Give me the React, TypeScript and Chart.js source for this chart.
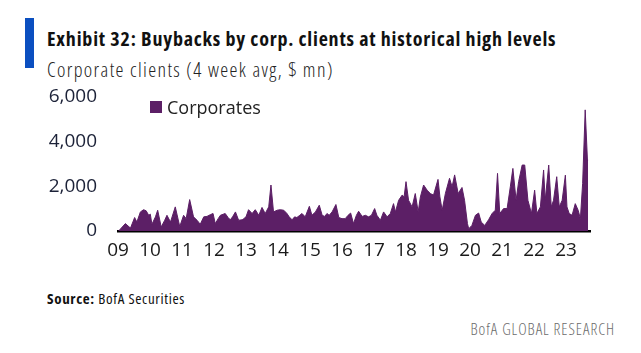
import React, { useEffect, useRef } from "react";
import { Chart, registerables } from "chart.js";

Chart.register(...registerables);

// decimal-year positions of the weekly-average readings
const dates: number[] = [
  2009.02, 2009.23, 2009.39, 2009.52, 2009.59, 2009.70, 2009.80, 2009.88, 2009.96,
  2010.01, 2010.06, 2010.17, 2010.24, 2010.35, 2010.46, 2010.53, 2010.64, 2010.79, 2010.93,
  2011.05, 2011.13, 2011.24, 2011.36, 2011.47, 2011.57, 2011.68, 2011.78, 2011.89, 2011.97,
  2012.04, 2012.13, 2012.20, 2012.35, 2012.44, 2012.51, 2012.58, 2012.67, 2012.77, 2012.88, 2012.93,
  2013.00, 2013.08, 2013.19, 2013.29, 2013.40, 2013.50, 2013.60, 2013.71, 2013.78, 2013.86, 2013.97,
  2014.07, 2014.18, 2014.28, 2014.35, 2014.44, 2014.52, 2014.59, 2014.68, 2014.75, 2014.85, 2014.98,
  2015.06, 2015.17, 2015.29, 2015.38, 2015.46, 2015.53, 2015.60, 2015.69, 2015.81, 2015.90,
  2016.00, 2016.10, 2016.19, 2016.27, 2016.36, 2016.45, 2016.52, 2016.63, 2016.73, 2016.83, 2016.92,
  2017.02, 2017.09, 2017.20, 2017.30, 2017.41, 2017.51, 2017.61, 2017.67, 2017.77, 2017.88, 2017.94,
  2018.00, 2018.08, 2018.19, 2018.29, 2018.38, 2018.45, 2018.55, 2018.66, 2018.76, 2018.86,
  2019.00, 2019.06, 2019.13, 2019.23, 2019.36, 2019.44, 2019.52, 2019.63, 2019.75, 2019.83, 2019.92, 2019.96,
  2020.06, 2020.17, 2020.27, 2020.35, 2020.46, 2020.58, 2020.69, 2020.79, 2020.86, 2020.93,
  2021.05, 2021.16, 2021.26, 2021.34, 2021.44, 2021.52, 2021.63, 2021.71, 2021.81, 2021.92,
  2022.02, 2022.09, 2022.20, 2022.30, 2022.35, 2022.46, 2022.54, 2022.61, 2022.71, 2022.79, 2022.88, 2022.98,
  2023.03, 2023.10, 2023.19, 2023.29, 2023.38, 2023.45, 2023.52, 2023.60, 2023.67, 2023.69,
];

// Corporates, 4 week avg, $ mn
const corporates: number[] = [
  0, 330, 130, 600, 400, 850, 950, 900, 700,
  750, 300, 630, 925, 180, 480, 700, 400, 1075, 200,
  700, 550, 1400, 630, 480, 300, 630, 650, 730, 780,
  330, 550, 700, 780, 600, 500, 630, 850, 480, 500, 550,
  630, 950, 780, 950, 700, 1050, 780, 1075, 2050, 850, 925,
  950, 925, 780, 630, 500, 630, 600, 700, 780, 630, 1100,
  700, 850, 1150, 700, 650, 780, 700, 850, 1180, 600,
  550, 550, 700, 800, 330, 700, 880, 650, 700, 630, 700,
  1000, 700, 480, 850, 630, 780, 1220, 850, 1370, 1600, 1520,
  2200, 1370, 1075, 1670, 850, 1520, 2050, 1820, 1670, 1600,
  2300, 1520, 925, 1670, 2350, 1970, 2500, 1670, 1940, 1370, 330, 100,
  250, 700, 800, 400, 250, 500, 780, 925, 2570, 780,
  1000, 1000, 1970, 2790, 1370, 2200, 2940, 2940, 1370, 780,
  1820, 780, 1075, 2720, 1370, 2940, 1075, 1370, 2420, 1075, 1370, 2490,
  1075, 780, 700, 1220, 925, 550, 2120, 5400, 3160, 3160,
];

const yTicks: number[] = [0, 2000, 4000, 6000];
const yearTicks: number[] = [2009, 2010, 2011, 2012, 2013, 2014, 2015, 2016, 2017, 2018, 2019, 2020, 2021, 2022, 2023];

const PURPLE = "#5C1F66";
const COND = "'Open Sans', 'DejaVu Sans', sans-serif";

export default function App() {
  const ref = useRef<HTMLCanvasElement | null>(null);

  useEffect(() => {
    if (!ref.current) return;
    const chart = new Chart(ref.current, {
      type: "line",
      data: {
        datasets: [
          {
            label: "Corporates",
            data: dates.map((d, i) => ({ x: d, y: corporates[i] })),
            backgroundColor: PURPLE,
            borderColor: PURPLE,
            borderWidth: 1,
            pointRadius: 0,
            tension: 0,
            fill: "origin",
          },
        ],
      },
      options: {
        animation: false,
        responsive: false,
        maintainAspectRatio: false,
        layout: { padding: { top: 1, right: 51, left: 0, bottom: 0 } },
        plugins: { legend: { display: false }, tooltip: { enabled: false } },
        scales: {
          x: {
            type: "linear",
            min: 2009,
            max: 2023.75,
            afterBuildTicks: (s: any) => {
              s.ticks = yearTicks.map((v) => ({ value: v }));
            },
            afterFit: (s: any) => {
              s.height = 35;
            },
            grid: { display: false, drawTicks: false },
            border: { display: true, color: "#000", width: 2.5 },
            ticks: {
              autoSkip: false,
              maxRotation: 0,
              padding: 8,
              color: "#1a1a1a",
              font: { family: "'Open Sans', sans-serif", size: 19 },
              callback: (v: any) => String(Number(v) % 100).padStart(2, "0"),
            },
          },
          y: {
            min: 0,
            max: 6000,
            afterBuildTicks: (s: any) => {
              s.ticks = yTicks.map((v) => ({ value: v }));
            },
            afterFit: (s: any) => {
              s.width = 118;
            },
            grid: { display: false, drawTicks: false },
            border: { display: false },
            ticks: {
              padding: 21,
              color: "#1c2238",
              font: { family: "'Open Sans', sans-serif", size: 19 },
              callback: (v: any) => Number(v).toLocaleString("en-US"),
            },
          },
        },
      },
    });
    return () => chart.destroy();
  }, []);

  return (
    <div style={{ position: "fixed", left: 0, top: 0, width: 641, height: 353, background: "#fff", overflow: "hidden" }}>
      <div style={{ position: "absolute", left: 25, top: 18, width: 9, height: 50, background: "#0B4FC0" }} />
      <div
        style={{
          position: "absolute", left: 47, top: 27, whiteSpace: "nowrap",
          fontFamily: COND, fontStretch: "75%", fontWeight: 700, fontSize: 20, letterSpacing: "0.8px", color: "#111", lineHeight: "24px",
        }}
      >
        Exhibit 32: Buybacks by corp. clients at historical high levels
      </div>
      <div
        style={{
          position: "absolute", left: 47, top: 58, whiteSpace: "nowrap",
          fontFamily: COND, fontStretch: "75%", fontWeight: 300, fontSize: 20, letterSpacing: "1.4px", color: "#222", lineHeight: "24px",
        }}
      >
        Corporate clients (4 week avg, $ mn)
      </div>
      <canvas ref={ref} width={641} height={202} style={{ position: "absolute", left: 0, top: 64, width: 641, height: 202 }} />
      <div style={{ position: "absolute", left: 150, top: 101, width: 12, height: 12, background: PURPLE }} />
      <div
        style={{
          position: "absolute", left: 167, top: 95, whiteSpace: "nowrap",
          fontFamily: "'Open Sans', sans-serif", fontSize: 18, color: "#222", lineHeight: "24px",
        }}
      >
        Corporates
      </div>
      <div
        style={{
          position: "absolute", left: 47, top: 289, whiteSpace: "nowrap",
          fontFamily: COND, fontStretch: "75%", fontSize: 15, letterSpacing: "0.65px", color: "#111", lineHeight: "18px",
        }}
      >
        <b>Source:</b> BofA Securities
      </div>
      <div
        style={{
          position: "absolute", right: 26, top: 319, whiteSpace: "nowrap",
          fontFamily: COND, fontStretch: "75%", fontWeight: 300, fontSize: 16, letterSpacing: "0.95px", color: "#6b6b6b", lineHeight: "20px",
        }}
      >
        BofA GLOBAL RESEARCH
      </div>
    </div>
  );
}
